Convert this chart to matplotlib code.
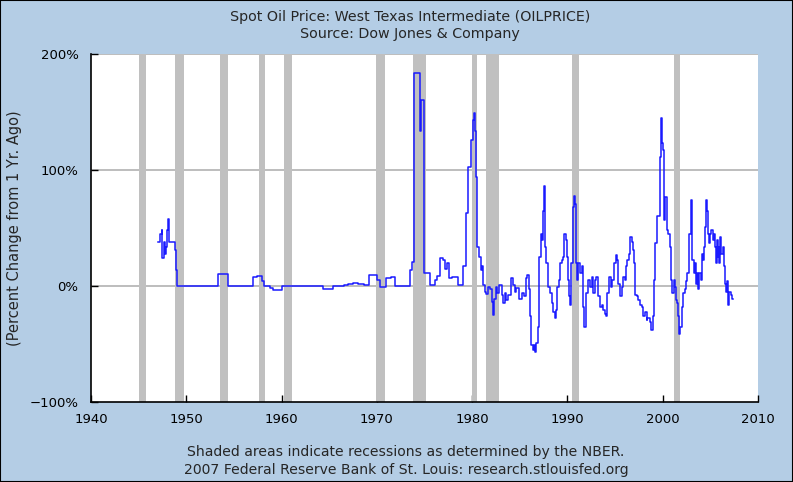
import matplotlib
matplotlib.use('Agg')
import matplotlib.pyplot as plt
from matplotlib.patches import Rectangle

# year-over-year % change (decimal years)
years = [1947.06, 1947.25, 1947.40, 1947.50, 1947.65, 1947.75, 1947.90, 1948.00, 1948.10, 1948.20,
         1948.80, 1948.90, 1949.05, 1953.30, 1954.40, 1957.00, 1957.40, 1957.90, 1958.20, 1958.80,
         1959.10, 1960.00, 1964.40, 1965.40, 1966.50, 1967.00, 1967.50, 1968.00, 1968.60, 1969.20,
         1970.00, 1970.30, 1971.00, 1971.45, 1971.90, 1973.50, 1973.65, 1973.90, 1974.50, 1974.60,
         1974.95, 1975.60, 1976.10, 1976.35, 1976.60, 1976.90, 1977.15, 1977.40, 1977.60, 1977.85,
         1978.55, 1979.05, 1979.35, 1979.60, 1979.85, 1980.05, 1980.20, 1980.30, 1980.40, 1980.55,
         1980.75, 1980.90, 1981.05, 1981.15, 1981.35, 1981.50, 1981.70, 1981.85, 1982.05, 1982.15,
         1982.30, 1982.50, 1982.65, 1982.85, 1983.10, 1983.25, 1983.45, 1983.60, 1983.80, 1984.05,
         1984.25, 1984.50, 1984.65, 1984.95, 1985.20, 1985.45, 1985.65, 1985.80, 1985.95, 1986.05,
         1986.20, 1986.35, 1986.50, 1986.60, 1986.75, 1986.95, 1987.05, 1987.20, 1987.30, 1987.40,
         1987.55, 1987.65, 1987.80, 1987.95, 1988.15, 1988.35, 1988.50, 1988.70, 1988.85, 1988.95,
         1989.10, 1989.20, 1989.40, 1989.55, 1989.65, 1989.80, 1989.95, 1990.05, 1990.20, 1990.30,
         1990.40, 1990.55, 1990.70, 1990.80, 1990.90, 1991.00, 1991.15, 1991.30, 1991.50, 1991.60,
         1991.75, 1991.90, 1992.00, 1992.20, 1992.35, 1992.55, 1992.70, 1992.90, 1993.05, 1993.25,
         1993.40, 1993.60, 1993.75, 1993.95, 1994.10, 1994.20, 1994.40, 1994.55, 1994.70, 1994.90,
         1995.05, 1995.20, 1995.35, 1995.50, 1995.70, 1995.85, 1996.05, 1996.15, 1996.30, 1996.45,
         1996.60, 1996.75, 1996.90, 1997.00, 1997.10, 1997.25, 1997.40, 1997.60, 1997.80, 1997.95,
         1998.15, 1998.30, 1998.40, 1998.65, 1998.80, 1999.00, 1999.10, 1999.20, 1999.40, 1999.70,
         1999.80, 1999.85, 1999.90, 2000.05, 2000.10, 2000.25, 2000.40, 2000.55, 2000.75, 2000.85,
         2001.00, 2001.15, 2001.30, 2001.40, 2001.50, 2001.60, 2001.75, 2001.85, 2002.00, 2002.15,
         2002.35, 2002.45, 2002.55, 2002.75, 2002.95, 2003.00, 2003.10, 2003.30, 2003.40, 2003.50,
         2003.60, 2003.75, 2003.85, 2004.00, 2004.15, 2004.25, 2004.35, 2004.45, 2004.55, 2004.65,
         2004.75, 2004.85, 2004.95, 2005.10, 2005.25, 2005.35, 2005.45, 2005.55, 2005.65, 2005.75,
         2005.85, 2005.95, 2006.05, 2006.15, 2006.30, 2006.40, 2006.50, 2006.60, 2006.70, 2006.80,
         2006.85, 2006.95, 2007.15, 2007.30, 2007.35]
pct_change = [38, 45, 48, 24, 38, 28, 34, 48, 58, 38,
              31, 14, 0, 10, 0, 8, 9, 4, 0, -2,
              -3.5, 0, -3, 0, 1, 2, 3, 2, 1, 9.5,
              5, -1, 7, 8, 0, 14, 21, 184, 134, 160,
              11, 1, 5, 9, 24, 22, 15, 20, 7, 8,
              1, 17, 63, 103, 126, 143, 149, 134, 94, 34,
              25, 14, 17, 1, -5, -7, -1, -3, -13.5, -25,
              -11, -1, -6, 1, -8, -15, -6, -12, -8, 7,
              1, -5, -2, -11.5, -6, -9, 7, 9.5, -3, -26,
              -51, -55, -51, -57, -49, -35, 25, 45, 40, 65,
              86, 34, 20, -1, -6, -15, -22, -28, -21, -1,
              5, 20, 22, 25, 45, 40, 25, 5, -9, -16,
              20, 68, 78, 71, 20, 5, 20, 11, 17, -18,
              -35, -21, -6, 5, -1, 8, -6, 5, 8, -9,
              -18, -16, -21, -24, -26, -6, 8, -1, 5, 20,
              27, 22, 2, -9, -1, 8, 5, 17, 22, 28,
              42, 38, 31, 20, -8, -9, -12, -16, -18, -26,
              -22, -29, -28, -31, -38, -26, 5, 37, 60, 111,
              132, 145, 123, 117, 57, 77, 48, 45, 34, 5,
              -6, 5, -1, -12, -15, -26, -41, -35, -18, -6,
              -3, 4, 11, 45, 71, 74, 22, 11, 20, 2,
              11, -3, 11, 5, 28, 22, 34, 51, 74, 65,
              45, 37, 45, 48, 40, 45, 34, 20, 40, 25,
              34, 20, 42, 28, 34, 17, 2, -5, 4, -6,
              -16, -5, -8, -11, -11]

# NBER recessions (start, end)
recessions = [(1945.08, 1945.75), (1948.83, 1949.75), (1953.50, 1954.33), (1957.58, 1958.25),
              (1960.25, 1961.08), (1969.92, 1970.83), (1973.83, 1975.17), (1980.00, 1980.50),
              (1981.50, 1982.83), (1990.50, 1991.17), (2001.17, 2001.83)]

x_ticks = [1940, 1950, 1960, 1970, 1980, 1990, 2000, 2010]
y_ticks = [-100, 0, 100, 200]
y_labels = ['\u2212100%', '0%', '100%', '200%']

bg = '#b4cde5'
txt = '#262626'

fig = plt.figure(figsize=(7.93, 4.82), dpi=100, facecolor=bg)
ax = fig.add_axes([91/793, 1 - 402/482, 667/793, 348/482])
ax.set_facecolor('white')

for y in [0, 100, 200]:
    ax.axhline(y, color='#b8b8b8', lw=1.3, zorder=1)
for s, e in recessions:
    ax.axvspan(s, e, color='#c0c0c0', lw=0, zorder=2)

ax.plot(years, pct_change, color='#1a1aff', lw=1.1, drawstyle='steps-post', zorder=3)

ax.set_xlim(1940, 2010)
ax.set_ylim(-100, 200)
ax.set_xticks(x_ticks)
ax.set_yticks(y_ticks)
ax.set_yticklabels(y_labels)
ax.tick_params(direction='in', length=5, width=1, colors='black', labelsize=9.5, labelcolor='black')
ax.tick_params(axis='x', pad=8)
ax.tick_params(axis='y', pad=9)
for side in ['top', 'right']:
    ax.spines[side].set_visible(False)
ax.spines['left'].set_linewidth(1.2)
ax.spines['bottom'].set_linewidth(1.2)

ax.set_ylabel('(Percent Change from 1 Yr. Ago)', fontsize=10.5, color=txt)
ax.yaxis.set_label_coords((22 - 91) / 667, 0.5)

fig.text(410/793, 1 - 17/482, 'Spot Oil Price: West Texas Intermediate (OILPRICE)',
         ha='center', va='center', fontsize=10.3, color=txt)
fig.text(410/793, 1 - 34/482, 'Source: Dow Jones & Company',
         ha='center', va='center', fontsize=10.3, color=txt)
fig.text(406/793, 1 - 452/482, 'Shaded areas indicate recessions as determined by the NBER.',
         ha='center', va='center', fontsize=10.1, color=txt)
fig.text(406/793, 1 - 470/482, '2007 Federal Reserve Bank of St. Louis: research.stlouisfed.org',
         ha='center', va='center', fontsize=10.1, color=txt)

fig.patches.append(Rectangle((0, 0), 1, 1, transform=fig.transFigure, fill=False,
                             edgecolor='black', lw=1.5))

fig.savefig('out.png', dpi=100, facecolor=bg)
